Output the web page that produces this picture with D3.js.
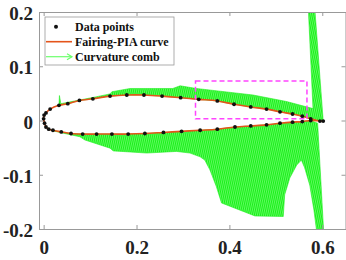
<!DOCTYPE html>
<html lang="en">
<head>
<meta charset="UTF-8">
<title>Curvature comb</title>
<script src="https://d3js.org/d3.v7.min.js"></script>
<style>
  body{margin:0;background:#fff;}
  svg text{font-family:"Liberation Serif","DejaVu Serif","Times New Roman",Times,serif;font-weight:bold;}
</style>
</head>
<body>
<div id="chart"></div>
<script>
// 数据点 - 上表面 (前缘 -> 后缘)
var upperX = [0.000, 0.001, 0.005, 0.014, 0.033, 0.052, 0.077, 0.106, 0.143, 0.179, 0.216, 0.255, 0.295, 0.334, 0.374, 0.410, 0.446, 0.480, 0.509, 0.536, 0.557, 0.575, 0.595, 0.602];
var upperY = [0.003, 0.010, 0.014, 0.021, 0.028, 0.031, 0.037, 0.040, 0.045, 0.047, 0.047, 0.045, 0.042, 0.039, 0.036, 0.030, 0.025, 0.021, 0.016, 0.012, 0.008, 0.003, -0.001, -0.001];
// 数据点 - 下表面
var lowerX = [0.002, 0.005, 0.011, 0.020, 0.038, 0.059, 0.084, 0.114, 0.147, 0.182, 0.218, 0.258, 0.297, 0.337, 0.374, 0.412, 0.446, 0.480, 0.509, 0.536, 0.557, 0.575];
var lowerY = [-0.005, -0.012, -0.016, -0.018, -0.021, -0.024, -0.025, -0.025, -0.025, -0.025, -0.024, -0.022, -0.020, -0.018, -0.016, -0.012, -0.010, -0.008, -0.005, -0.003, -0.002, 0.000];

// 曲率梳的外包络 (上 / 下)
var combUpX = [0.033, 0.034, 0.037, 0.055, 0.109, 0.143, 0.147, 0.186, 0.278, 0.294, 0.329, 0.380, 0.451, 0.523, 0.580, 0.570, 0.584, 0.602];
var combUpY = [0.028, 0.046, 0.031, 0.034, 0.043, 0.049, 0.053, 0.059, 0.059, 0.064, 0.059, 0.054, 0.047, 0.035, 0.022, 0.205, 0.205, -0.001];
var combLoX = [0.005, 0.020, 0.035, 0.078, 0.089, 0.143, 0.150, 0.222, 0.286, 0.315, 0.337, 0.347, 0.358, 0.372, 0.383, 0.455, 0.516, 0.519, 0.530, 0.545, 0.555, 0.562, 0.573, 0.582, 0.588, 0.603, 0.590];
var combLoY = [-0.012, -0.019, -0.022, -0.030, -0.036, -0.051, -0.056, -0.060, -0.057, -0.060, -0.067, -0.073, -0.091, -0.122, -0.152, -0.176, -0.177, -0.137, -0.106, -0.082, -0.073, -0.087, -0.119, -0.165, -0.205, -0.205, -0.005];

// 放大框
var boxX = [0.327, 0.567];
var boxY = [0.003, 0.073];

var xTicks = [0, 0.2, 0.4, 0.6];
var yTicks = [-0.2, -0.1, 0, 0.1, 0.2];
var legendLabels = ["Data points", "Fairing-PIA curve", "Curvature comb"];

window.onload = function(){
    var W = 346, H = 260;
    var serif = '"Liberation Serif","DejaVu Serif","Times New Roman",Times,serif';
    var svg = d3.select('#chart').append('svg')
                .attr('width', W).attr('height', H);

    var x = d3.scaleLinear().domain([-0.01, 0.65]).range([39, 345.5]);
    var y = d3.scaleLinear().domain([-0.2, 0.2]).range([229, 12]);

    var defs = svg.append('defs');
    defs.append('clipPath').attr('id', 'clip')
        .append('rect').attr('x', 39).attr('y', 12).attr('width', 306.5).attr('height', 217);
    // 梳齿的斜线纹理
    var pat = defs.append('pattern').attr('id', 'hatch')
        .attr('patternUnits', 'userSpaceOnUse')
        .attr('width', 2).attr('height', 6)
        .attr('patternTransform', 'rotate(12)');
    pat.append('rect').attr('width', 2).attr('height', 6).attr('fill', '#19f019');
    pat.append('line').attr('x1', 0.5).attr('y1', 0).attr('x2', 0.5).attr('y2', 6)
        .attr('stroke', '#7cff7c').attr('stroke-width', 0.7);

    var upper = upperX.map(function(d, i){ return [d, upperY[i]]; });
    var lower = lowerX.map(function(d, i){ return [d, lowerY[i]]; });
    var tePt = upper[upper.length - 1];

    var line = d3.line().x(function(d){ return x(d[0]); }).y(function(d){ return y(d[1]); });

    var plot = svg.append('g').attr('clip-path', 'url(#clip)');

    // 上表面曲率梳：包络 + 表面回程
    var upEnv = combUpX.map(function(d, i){ return [d, combUpY[i]]; });
    var upBase = upper.filter(function(d){ return d[0] >= 0.033; }).reverse();
    plot.append('path').attr('d', line(upEnv.concat(upBase)) + 'Z')
        .attr('fill', 'url(#hatch)').attr('stroke', '#22ee22').attr('stroke-width', 0.6);

    // 下表面曲率梳
    var loEnv = combLoX.map(function(d, i){ return [d, combLoY[i]]; });
    var loBase = lower.filter(function(d){ return d[0] >= 0.005; }).reverse();
    plot.append('path').attr('d', line(loEnv.concat(loBase)) + 'Z')
        .attr('fill', 'url(#hatch)').attr('stroke', '#22ee22').attr('stroke-width', 0.6);

    // Fairing-PIA 曲线
    var curvePts = upper.slice().reverse().concat(lower).concat([tePt]);
    var smooth = d3.line().x(function(d){ return x(d[0]); }).y(function(d){ return y(d[1]); })
                   .curve(d3.curveCatmullRom.alpha(0.5));
    plot.append('path').attr('d', smooth(curvePts))
        .attr('fill', 'none').attr('stroke', '#e4541b').attr('stroke-width', 1.6);

    // 数据点
    plot.selectAll('circle.pt').data(upper.concat(lower)).enter()
        .append('circle').attr('class', 'pt')
        .attr('cx', function(d){ return x(d[0]); })
        .attr('cy', function(d){ return y(d[1]); })
        .attr('r', 1.9).attr('fill', '#111');

    // 放大框（虚线）
    svg.append('rect')
        .attr('x', x(boxX[0])).attr('y', y(boxY[1]))
        .attr('width', x(boxX[1]) - x(boxX[0]))
        .attr('height', y(boxY[0]) - y(boxY[1]))
        .attr('fill', 'none').attr('stroke', '#ff44ff')
        .attr('stroke-width', 1.5).attr('stroke-dasharray', '5,3');

    // 坐标轴（刻度朝内）
    var axColor = '#999';
    var gx = svg.append('g').attr('transform', 'translate(0,229)')
        .call(d3.axisBottom(x).tickValues(xTicks).tickSize(-4).tickSizeOuter(0).tickPadding(12)
              .tickFormat(function(d){ return d === 0 ? '0' : d3.format('.1f')(d); }));
    var gxt = svg.append('g').attr('transform', 'translate(0,12)')
        .call(d3.axisTop(x).tickValues(xTicks).tickSize(-4).tickSizeOuter(0).tickFormat(''));
    var gy = svg.append('g').attr('transform', 'translate(39,0)')
        .call(d3.axisLeft(y).tickValues(yTicks).tickSize(-4).tickSizeOuter(0).tickPadding(6)
              .tickFormat(function(d){ return d === 0 ? '0' : d3.format('.1f')(d).replace('−', '-'); }));
    var gyr = svg.append('g').attr('transform', 'translate(345.5,0)')
        .call(d3.axisRight(y).tickValues(yTicks).tickSize(-4).tickSizeOuter(0).tickFormat(''));
    [gx, gxt, gy, gyr].forEach(function(g){
        g.attr('font-family', serif);
        g.selectAll('path,line').attr('stroke', axColor);
    });
    gx.selectAll('text').attr('font-size', 19).attr('fill', '#222')
        .style('font-family', serif).style('font-weight', 'bold');
    gy.selectAll('text').attr('font-size', 19).attr('fill', '#222').attr('dy', '0.40em')
        .style('font-family', serif).style('font-weight', 'bold');

    // 图例
    var lg = svg.append('g');
    lg.append('rect').attr('x', 45).attr('y', 17).attr('width', 129).attr('height', 48)
        .attr('fill', '#fff').attr('stroke', '#999').attr('stroke-width', 0.8);
    var rowY = [26.7, 41.7, 56.7];
    lg.append('circle').attr('cx', 56).attr('cy', rowY[0]).attr('r', 2).attr('fill', '#111');
    lg.append('line').attr('x1', 46).attr('x2', 72).attr('y1', rowY[1]).attr('y2', rowY[1])
        .attr('stroke', '#e4541b').attr('stroke-width', 1.6);
    lg.append('line').attr('x1', 46).attr('x2', 72).attr('y1', rowY[2]).attr('y2', rowY[2])
        .attr('stroke', '#6cff6c').attr('stroke-width', 1.2);
    lg.append('path')
        .attr('d', 'M67,' + (rowY[2] - 3) + 'L72,' + rowY[2] + 'L67,' + (rowY[2] + 3))
        .attr('fill', 'none').attr('stroke', '#6cff6c').attr('stroke-width', 1.2);
    lg.selectAll('text').data(legendLabels).enter().append('text')
        .attr('x', 75).attr('y', function(d, i){ return rowY[i]; })
        .attr('dy', '0.35em').attr('font-size', 12).attr('fill', '#111')
        .style('font-family', serif).style('font-weight', 'bold')
        .text(function(d){ return d; });
};
</script>
</body>
</html>
